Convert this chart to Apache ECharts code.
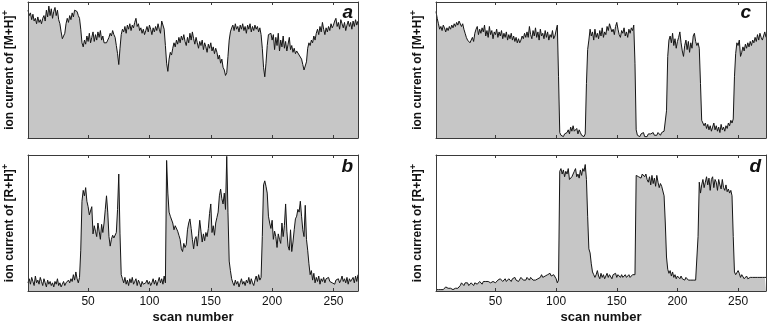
<!DOCTYPE html>
<html>
<head>
<meta charset="utf-8">
<script src="https://cdn.jsdelivr.net/npm/echarts@6/dist/echarts.min.js"></script>
<style>
html,body{margin:0;padding:0;background:#fff;}
#chart{width:767px;height:327px;}
</style>
</head>
<body>
<div id="chart"></div>
<script>
// scan-number tick labels
const scanTicks = [50, 100, 150, 200, 250];
const yLabelMH = 'ion current of [M+H]';
const yLabelRH = 'ion current of [R+H]';
const xLabel = 'scan number';
const panelLetters = ['a', 'b', 'c', 'd'];

// panel a: ion current of [M+H]+ (relative), scans 1..270
const ionMH_a = [
94,90,92,87,91,86,88,84,89,85,
87,84,88,90,86,94,89,97,90,95,
88,93,96,90,94,87,84,78,73,72,
77,84,88,85,90,87,92,89,94,95,
93,90,88,80,70,67,72,69,75,71,
77,70,74,78,71,76,72,78,74,79,
72,75,70,69,70,72,74,77,75,79,
76,74,68,62,54,66,76,80,78,82,
77,83,80,84,79,83,81,85,88,82,
84,79,81,77,80,76,79,82,78,83,
80,76,81,78,82,79,84,80,77,86,
87,80,68,55,49,58,63,61,66,70,
67,72,69,74,70,75,72,76,71,68,
74,70,77,72,78,73,69,74,70,66,
71,68,72,65,70,67,63,69,66,70,
64,67,62,66,63,58,61,55,58,52,
50,46,48,60,72,78,81,83,79,84,
80,82,78,83,80,84,79,82,77,83,
80,84,78,82,79,83,80,82,78,81,
76,66,52,45,55,68,76,75,77,72,
76,65,74,68,77,64,72,67,75,66,
71,64,69,74,65,68,63,66,62,64,
63,61,60,58,54,50,49,56,66,70,
68,72,70,75,72,77,80,76,82,78,
85,80,76,81,78,82,79,84,81,83,
86,88,82,85,80,87,84,81,85,79,
83,86,82,85,80,86,82,87,83,86
];

// panel b: ion current of [R+H]+ (relative), scans 1..270
const ionRH_b = [
6,9,5,10,7,4,11,6,8,5,
10,7,4,9,6,3,8,5,7,4,
6,3,7,5,9,4,6,3,5,7,
4,6,5,8,6,9,7,12,8,14,
9,6,10,30,66,74,70,76,66,62,
56,55,62,42,48,44,40,50,44,38,
49,43,50,60,70,58,40,33,38,41,
39,40,43,60,86,42,12,9,6,10,
5,8,4,9,6,10,5,7,9,4,
8,6,3,7,5,4,6,8,5,7,
4,6,9,5,8,4,7,10,6,9,
5,11,6,96,72,58,55,56,50,45,
48,49,44,41,38,31,29,35,32,34,
45,50,53,46,38,31,38,40,33,42,
52,44,36,42,37,43,40,46,57,64,
43,48,41,50,54,58,70,75,68,64,
72,60,99,58,22,15,9,6,4,8,
5,7,3,6,9,5,7,4,8,6,
10,5,9,6,4,8,11,7,12,8,
10,40,78,81,77,72,55,50,46,52,
38,44,40,32,42,38,35,50,40,48,
64,44,33,30,45,29,36,45,53,55,
60,58,66,55,45,40,63,38,30,20,
12,15,8,13,6,10,7,11,5,9,
7,10,6,9,8,10,7,8,6,7,
5,8,7,9,6,8,11,7,9,6,
10,5,9,7,8,10,6,11,7,12
];

// panel c: ion current of [M+H]+ (relative), scans 1..273
const ionMH_c = [
93,88,84,80,82,79,83,81,78,81,
79,82,80,83,81,84,82,85,83,86,
87,82,84,80,77,74,72,73,70,72,
74,71,77,80,82,76,80,77,81,78,
83,75,79,74,82,76,79,73,78,76,
80,74,78,75,79,73,77,74,78,72,
76,73,77,72,75,71,74,70,73,70,
72,75,73,77,74,78,74,82,76,73,
79,75,81,74,78,72,80,75,77,73,
79,74,78,72,76,74,79,73,75,74,
83,45,4,2,3,1,3,2,4,6,
3,8,5,9,5,4,7,3,6,4,
2,3,1,3,40,65,72,80,75,78,
72,80,74,77,73,79,75,81,74,78,
76,82,79,84,83,78,80,76,82,85,
80,76,74,79,77,81,75,78,74,80,
77,81,79,83,55,6,2,3,1,3,
2,4,1,2,1,3,2,3,2,4,
2,3,2,4,3,2,4,3,5,4,
20,60,72,75,70,77,68,73,66,71,
74,78,70,64,60,68,72,65,71,63,
70,66,75,77,71,68,70,66,40,13,
12,9,11,7,10,6,9,5,8,11,
6,9,5,8,4,10,6,8,5,9,
7,11,9,13,11,14,45,62,70,68,
72,60,63,67,64,69,66,70,67,71,
68,72,70,74,71,76,72,77,74,72,
75,78,74
];

// panel d: ion current of [R+H]+ (relative), scans 1..273
const ionRH_d = [
1,0,1,2,1,0,1,2,3,2,
2,3,2,2,1,1,2,1,2,3,
4,6,5,4,6,5,6,4,5,6,
5,4,6,7,5,6,7,6,5,7,
8,7,6,7,8,6,7,7,8,6,
7,8,7,9,8,7,8,9,7,8,
9,8,7,9,8,10,8,9,7,8,
10,9,8,9,8,10,9,8,10,9,
8,9,8,7,9,8,10,12,10,9,
11,10,12,11,13,11,10,12,11,9,
6,8,88,90,86,89,84,88,86,90,
82,81,84,86,88,90,84,86,83,89,
85,90,88,93,82,55,31,28,20,14,
12,10,12,15,11,9,13,10,12,9,
11,13,10,12,11,9,12,11,13,10,
12,11,10,12,10,11,12,10,11,12,
10,11,12,11,12,85,86,84,85,83,
86,85,84,86,82,80,84,78,85,79,
83,77,85,80,76,79,77,76,70,50,
25,16,13,15,11,14,10,12,9,11,
10,9,11,9,10,8,10,9,8,9,
8,9,8,9,8,9,40,80,72,78,
82,76,80,84,78,83,74,82,84,76,
82,80,74,82,78,75,82,76,74,78,
73,75,72,74,70,40,14,12,13,15,
13,10,12,11,9,10,11,9,10,10,
9,10,11,10,9,10,11,10,10,10,
9,10,10
];

const FONT = 'Liberation Sans, Arial, Helvetica, sans-serif';
const FRAME = '#3a3a3a';
const FILL = '#c6c6c6';
const LINE = '#151515';

const panels = [
  {grid: {left: 28, top: 2, width: 330, height: 136}, data: ionMH_a, ylab: yLabelMH, xmax: 270, bottom: false},
  {grid: {left: 28, top: 155, width: 330, height: 136}, data: ionRH_b, ylab: yLabelRH, xmax: 270, bottom: true},
  {grid: {left: 436, top: 2, width: 330, height: 136}, data: ionMH_c, ylab: yLabelMH, xmax: 273, bottom: false},
  {grid: {left: 436, top: 155, width: 330, height: 136}, data: ionRH_d, ylab: yLabelRH, xmax: 273, bottom: true}
];

const grid = [], xAxis = [], yAxis = [], series = [];
panels.forEach((p, i) => {
  grid.push(Object.assign({containLabel: false, show: false}, p.grid));
  const lineStyle = {color: FRAME, width: 1};
  xAxis.push({
    type: 'value', gridIndex: i, position: 'bottom', min: 1, max: p.xmax, z: 10,
    axisLine: {show: true, onZero: false, lineStyle},
    axisTick: {show: true, inside: true, length: 3, customValues: scanTicks, lineStyle},
    axisLabel: {show: p.bottom, customValues: scanTicks, margin: 5, fontSize: 12, color: '#111', fontFamily: FONT},
    splitLine: {show: false},
    name: p.bottom ? xLabel : '',
    nameLocation: 'middle', nameGap: 20,
    nameTextStyle: {fontSize: 13, fontWeight: 'bold', color: '#111', fontFamily: FONT}
  });
  xAxis.push({
    type: 'value', gridIndex: i, position: 'top', min: 1, max: p.xmax, z: 10,
    axisLine: {show: true, onZero: false, lineStyle},
    axisTick: {show: true, inside: true, length: 3, customValues: scanTicks, lineStyle},
    axisLabel: {show: false},
    splitLine: {show: false}
  });
  yAxis.push({
    type: 'value', gridIndex: i, position: 'left', min: 0, max: 100, z: 10,
    axisLine: {show: true, onZero: false, lineStyle},
    axisTick: {show: false}, axisLabel: {show: false}, splitLine: {show: false},
    name: '{t|' + p.ylab + '}{s|+}',
    nameLocation: 'middle', nameGap: 9,
    nameTextStyle: {
      rich: {
        t: {fontSize: 12, fontWeight: 'bold', color: '#111', fontFamily: FONT},
        s: {fontSize: 9, fontWeight: 'bold', color: '#111', fontFamily: FONT, padding: [0, 0, 9, 0]}
      }
    }
  });
  yAxis.push({
    type: 'value', gridIndex: i, position: 'right', min: 0, max: 100, z: 10,
    axisLine: {show: true, onZero: false, lineStyle},
    axisTick: {show: false}, axisLabel: {show: false}, splitLine: {show: false}
  });
  series.push({
    type: 'line', xAxisIndex: 2 * i, yAxisIndex: 2 * i,
    data: p.data.map((v, k) => [k + 1, v]),
    showSymbol: false, symbol: 'none', smooth: false,
    lineStyle: {color: LINE, width: 1},
    areaStyle: {color: FILL, opacity: 1, origin: 'start'},
    z: 2
  });
});

const letterPos = [[353, 22], [353, 176], [751, 22], [761, 176]];
const graphic = panelLetters.map((t, i) => ({
  type: 'text', x: letterPos[i][0], y: letterPos[i][1], z: 20,
  style: {text: t, font: 'italic bold 19px ' + FONT, fill: '#111', textAlign: 'right', textVerticalAlign: 'bottom'}
}));

const chart = echarts.init(document.getElementById('chart'), null, {renderer: 'canvas'});
chart.setOption({
  animation: false,
  backgroundColor: '#fff',
  grid, xAxis, yAxis, series, graphic
});
</script>
</body>
</html>
